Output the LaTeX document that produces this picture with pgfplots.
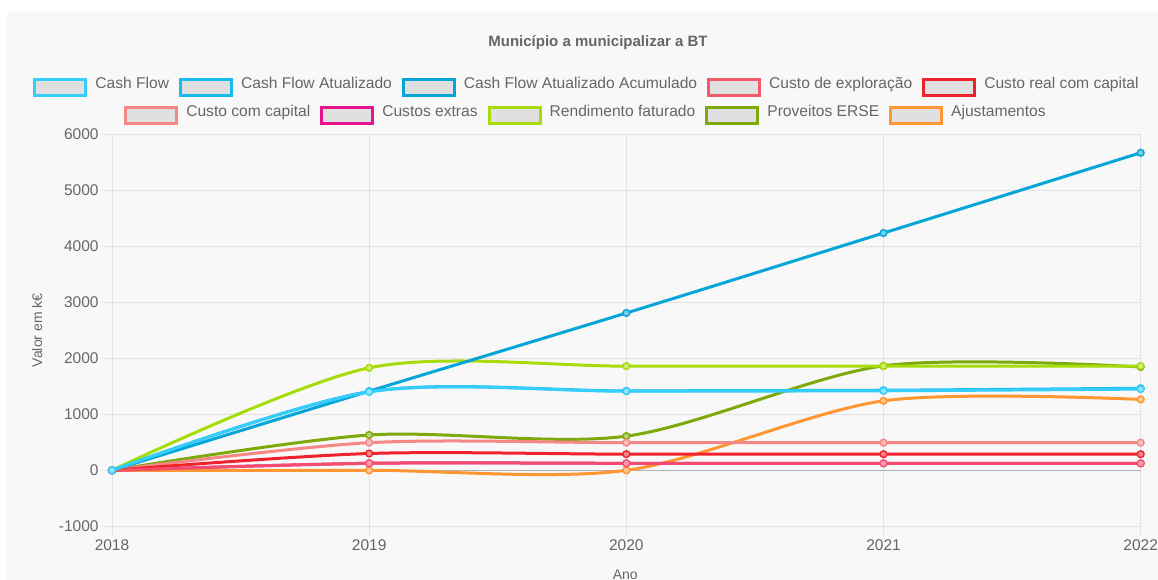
\documentclass[border=0pt]{standalone}
\usepackage{pgfplots}
\pgfplotsset{compat=1.18}
\usepackage{fontspec}
\setmainfont{Liberation Sans}
\definecolor{bg}{RGB}{248,248,248}
\definecolor{txt}{RGB}{102,102,102}
\definecolor{legfill}{RGB}{224,224,224}
\definecolor{gridc}{RGB}{226,226,226}
\definecolor{cf}{RGB}{54,205,250}
\definecolor{cfa}{RGB}{20,188,240}
\definecolor{cfaa}{RGB}{5,165,215}
\definecolor{cexp}{RGB}{245,90,105}
\definecolor{creal}{RGB}{240,35,45}
\definecolor{ccap}{RGB}{245,135,135}
\definecolor{cext}{RGB}{230,20,140}
\definecolor{rend}{RGB}{165,220,10}
\definecolor{prov}{RGB}{125,170,10}
\definecolor{ajust}{RGB}{255,150,50}
\newcommand\legitem[2]{\raisebox{-5pt}{\setlength\fboxrule{3pt}\setlength\fboxsep{0pt}\fcolorbox{#1}{legfill}{\rule{0pt}{13pt}\hspace{48pt}}}\hspace{8pt}#2}
\pgfplotsset{
  ser/.style={color=#1, line width=3pt, smooth, tension=0.5, mark=*, mark size=3.4pt,
    mark options={line width=1.4pt, draw=#1, fill=#1!55!white}},
}
\begin{document}
\begin{tikzpicture}
\useasboundingbox (0,0) rectangle (1158pt,580pt);
\fill[white] (0,0) rectangle (1158pt,580pt);
\fill[bg] (7pt,0) rectangle (1158pt,568pt);
\node[font=\bfseries\fontsize{15pt}{18pt}\selectfont, text=txt, anchor=base] at (598pt,533pt) {Município a municipalizar a BT};
\node[font=\fontsize{15.6pt}{18pt}\selectfont, text=txt, anchor=base, inner sep=0pt] at (586pt,491pt) {%
\legitem{cf}{Cash Flow}\hspace{10pt}%
\legitem{cfa}{Cash Flow Atualizado}\hspace{10pt}%
\legitem{cfaa}{Cash Flow Atualizado Acumulado}\hspace{10pt}%
\legitem{cexp}{Custo de exploração}\hspace{10pt}%
\legitem{creal}{Custo real com capital}};
\node[font=\fontsize{15.6pt}{18pt}\selectfont, text=txt, anchor=base, inner sep=0pt] at (585pt,463pt) {%
\legitem{ccap}{Custo com capital}\hspace{10pt}%
\legitem{cext}{Custos extras}\hspace{10pt}%
\legitem{rend}{Rendimento faturado}\hspace{10pt}%
\legitem{prov}{Proveitos ERSE}\hspace{10pt}%
\legitem{ajust}{Ajustamentos}};
\begin{axis}[
  at={(112pt,53.7pt)}, anchor=south west,
  scale only axis, width=1028.7pt, height=392pt,
  xmin=2018, xmax=2022, ymin=-1000, ymax=6000,
  xtick={2018,2019,2020,2021,2022},
  ytick={-1000,1000,2000,3000,4000,5000,6000},
  extra y ticks={0},
  extra y tick style={grid style={draw=black!30, line width=1pt}},
  xtick pos=bottom, ytick pos=left,
  tick align=outside, major tick length=9pt,
  tick style={draw=gridc, line width=1pt},
  grid=major, grid style={draw=gridc, line width=1pt},
  axis line style={draw=none},
  /pgf/number format/assume math mode=true,
  /pgf/number format/1000 sep={},
  tick label style={font=\fontsize{15.5pt}{18pt}\selectfont, text=txt},
  xticklabel style={yshift=-1pt},
  yticklabel style={xshift=-1pt},
  xlabel={Ano}, ylabel={Valor em k€},
  label style={font=\fontsize{14pt}{16pt}\selectfont, text=txt},
  xlabel style={at={(axis description cs:0.499,0)}, anchor=base, yshift=-53pt},
  ylabel style={at={(axis description cs:-0.0729,0.5)}, anchor=center},
  clip=false,
]
\addplot[ser=ajust] coordinates {(2018,0) (2019,0) (2020,0) (2021,1240) (2022,1265)};
\addplot[ser=prov] coordinates {(2018,0) (2019,630) (2020,610) (2021,1865) (2022,1845)};
\addplot[ser=rend] coordinates {(2018,0) (2019,1830) (2020,1860) (2021,1860) (2022,1862)};
\addplot[ser=cext] coordinates {(2018,0) (2019,125) (2020,125) (2021,125) (2022,125)};
\addplot[ser=ccap] coordinates {(2018,0) (2019,493) (2020,493) (2021,493) (2022,493)};
\addplot[ser=creal] coordinates {(2018,0) (2019,300) (2020,288) (2021,288) (2022,288)};
\addplot[ser=cexp, opacity=0.8] coordinates {(2018,0) (2019,125) (2020,125) (2021,125) (2022,125)};
\addplot[ser=cfaa] coordinates {(2018,0) (2019,1413) (2020,2809) (2021,4237) (2022,5670)};
\addplot[ser=cfa] coordinates {(2018,0) (2019,1405) (2020,1418) (2021,1430) (2022,1465)};
\addplot[ser=cf] coordinates {(2018,0) (2019,1400) (2020,1412) (2021,1420) (2022,1450)};
\end{axis}
\end{tikzpicture}
\end{document}
